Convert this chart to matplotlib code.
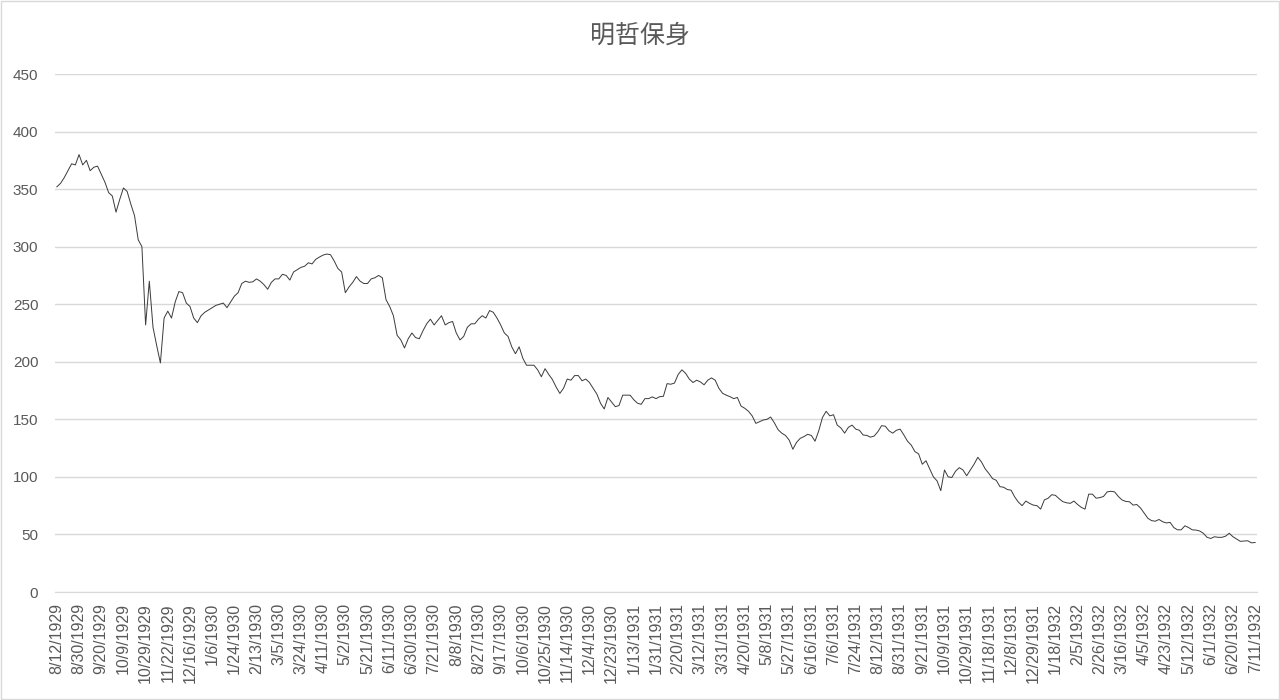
import matplotlib
matplotlib.use("Agg")
import matplotlib.pyplot as plt
from matplotlib.patches import Rectangle


# chart text
title = "明哲保身"

# category labels shown on the x axis (one every 6 points)
tick_dates = [
    "8/12/1929", "8/30/1929", "9/20/1929", "10/9/1929", "10/29/1929",
    "11/22/1929", "12/16/1929", "1/6/1930", "1/24/1930", "2/13/1930",
    "3/5/1930", "3/24/1930", "4/11/1930", "5/2/1930", "5/21/1930",
    "6/11/1930", "6/30/1930", "7/21/1930", "8/8/1930", "8/27/1930",
    "9/17/1930", "10/6/1930", "10/25/1930", "11/14/1930", "12/4/1930",
    "12/23/1930", "1/13/1931", "1/31/1931", "2/20/1931", "3/12/1931",
    "3/31/1931", "4/20/1931", "5/8/1931", "5/27/1931", "6/16/1931",
    "7/6/1931", "7/24/1931", "8/12/1931", "8/31/1931", "9/21/1931",
    "10/9/1931", "10/29/1931", "11/18/1931", "12/8/1931", "12/29/1931",
    "1/18/1932", "2/5/1932", "2/26/1932", "3/16/1932", "4/5/1932",
    "4/23/1932", "5/12/1932", "6/1/1932", "6/20/1932", "7/11/1932",
]
points_per_tick = 6

# index values, 12 per row (= two tick intervals)
values = [
    352, 355, 360, 366, 372, 371, 380, 371, 375, 366, 369, 370,
    363, 356, 347, 344, 330, 341, 351, 348, 337, 327, 306, 300,
    232, 270, 230, 214, 199, 238, 244, 238, 252, 261, 260, 251,
    248, 238, 234, 240, 243, 245, 247, 249, 250, 251, 247, 252,
    257, 260, 268, 270, 269, 269.5, 272, 270, 267, 263, 269, 272,
    272, 276, 275, 271, 278, 280, 282, 283, 286, 285, 289, 291,
    292.7, 293.6, 293, 287.5, 281, 278, 260, 265, 269, 274, 270, 268,
    268, 272, 273, 275, 273, 254, 248, 240, 223, 219, 212, 220,
    225, 221, 220, 227, 233, 237, 232, 236, 240, 232, 234, 235,
    225, 219, 222, 230, 233, 233, 237, 240, 238, 244.5, 243, 238,
    232, 225, 222, 213, 207, 213, 203, 197, 197, 197, 193, 187,
    194, 189, 184.5, 178, 172.5, 177, 185, 184, 188, 188, 183.5, 185,
    182, 177, 172, 164, 159, 169, 165, 161, 162, 171, 171, 171,
    167, 164, 163, 168, 168, 169.5, 168, 169.7, 170, 181, 180.5, 181.5,
    189, 193, 190, 185, 182, 184, 182.5, 180, 184, 186, 184, 177,
    172.6, 171, 169.7, 168, 169, 161.5, 159.6, 157, 153, 146.5, 148, 149.4,
    150, 152, 147, 141, 138, 136, 132, 124, 130, 133.5, 135, 137,
    136, 131, 140, 151.5, 157, 153, 154, 145, 142.5, 138, 143, 145,
    141.5, 140.5, 136.4, 136, 134.5, 135.5, 139.3, 144.5, 144, 140, 138, 140.5,
    141.5, 136.5, 131, 127.7, 122, 120, 111, 114, 107, 100, 96.5, 88,
    106, 100, 99.5, 105, 108, 106, 101, 106, 111, 117, 113, 107,
    103, 98.5, 97, 91.5, 91, 89, 88.5, 82.5, 78, 75, 79, 77,
    75.5, 75, 72, 80, 81.4, 84.5, 84, 81, 78.5, 77.5, 77, 79,
    76, 73.5, 72, 85, 85, 81.5, 82, 83, 87, 87.5, 87, 83,
    80, 78.7, 78.4, 75.5, 76, 73, 68.5, 64, 62, 61.5, 63, 61,
    60, 60.5, 56, 54, 54, 57.5, 56, 54, 53.8, 53, 51, 47.5,
    46.5, 48, 47.5, 47.5, 48.5, 51, 48, 46, 44, 44.3, 44.5, 42.7, 43,
]

y_ticks = [0, 50, 100, 150, 200, 250, 300, 350, 400, 450]

text_gray = "#595959"
grid_gray = "#d9d9d9"


def draw_chart():
    fig = plt.figure(figsize=(12.8, 7), dpi=100)
    # thin border round the whole chart, like the Excel chart area
    fig.patches.append(Rectangle((0.001, 0.001), 0.998, 0.998,
                                 transform=fig.transFigure, fill=False,
                                 edgecolor=grid_gray, linewidth=1))

    ax = fig.add_axes([55 / 1280, 1 - 592 / 700, 1202 / 1280, 518 / 700])

    x = list(range(len(values)))
    ax.plot(x, values, color="#3a3a3a", linewidth=0.7)

    ax.set_ylim(0, 450)
    ax.set_xlim(-0.5, len(values) - 0.5)
    ax.set_yticks(y_ticks)
    ax.yaxis.grid(True, color=grid_gray, linewidth=1)
    ax.set_axisbelow(True)

    tick_pos = [i * points_per_tick for i in range(len(tick_dates))]
    ax.set_xticks(tick_pos)
    ax.set_xticklabels(tick_dates, rotation=90)

    for side in ["top", "right", "left"]:
        ax.spines[side].set_visible(False)
    ax.spines["bottom"].set_color(grid_gray)

    ax.tick_params(axis="y", length=0, pad=12, labelsize=11, labelcolor=text_gray)
    ax.tick_params(axis="x", length=0, pad=8, labelsize=11.5, labelcolor=text_gray)
    for lab in ax.get_xticklabels() + ax.get_yticklabels():
        lab.set_family(["Liberation Sans", "DejaVu Sans"])

    fig.text(0.5, 1 - 36 / 700, title, ha="center", va="center",
             fontsize=18, color=text_gray,
             family=["Noto Sans CJK SC", "DejaVu Sans"])

    fig.savefig("out.png", dpi=100)
    plt.close(fig)


def main():
    draw_chart()


if __name__ == "__main__":
    main()
